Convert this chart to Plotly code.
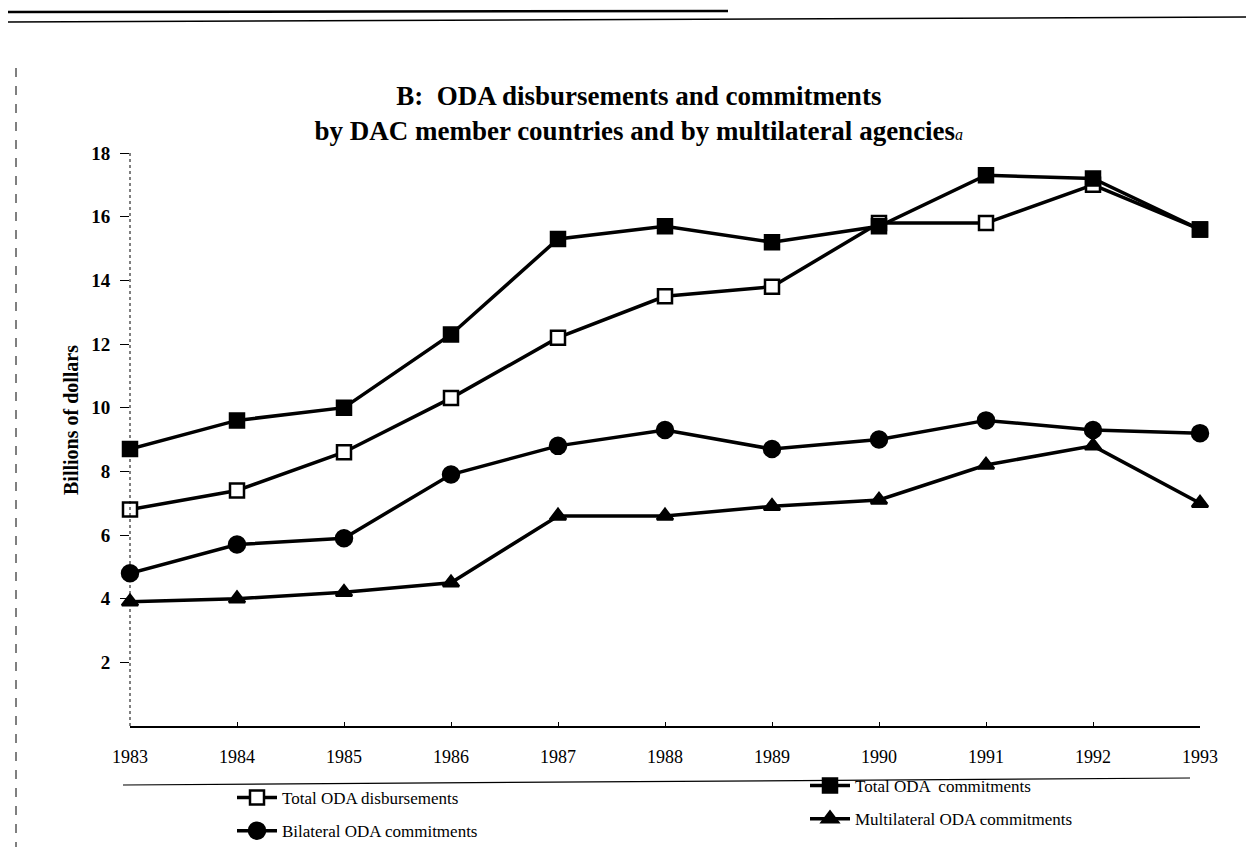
import plotly.graph_objects as go

years = [1983, 1984, 1985, 1986, 1987, 1988, 1989, 1990, 1991, 1992, 1993]
total_disb = [6.8, 7.4, 8.6, 10.3, 12.2, 13.5, 13.8, 15.8, 15.8, 17.0, 15.6]
total_comm = [8.7, 9.6, 10.0, 12.3, 15.3, 15.7, 15.2, 15.7, 17.3, 17.2, 15.6]
bilateral = [4.8, 5.7, 5.9, 7.9, 8.8, 9.3, 8.7, 9.0, 9.6, 9.3, 9.2]
multilateral = [3.9, 4.0, 4.2, 4.5, 6.6, 6.6, 6.9, 7.1, 8.2, 8.8, 7.0]
y_ticks = [2, 4, 6, 8, 10, 12, 14, 16, 18]

W, H = 1254, 847
L, R, T, B = 122, 62, 145, 129
PW, PH = W - L - R, H - T - B

def px(xpix):
    return (xpix - L) / PW

def py(ypix):
    return (H - B - ypix) / PH

SERIF = "Liberation Serif, Times New Roman, serif"

fig = go.Figure()
series = [
    ("Total ODA disbursements", total_disb, "square", "white", "legend"),
    ("Total ODA  commitments", total_comm, "square", "black", "legend2"),
    ("Bilateral ODA commitments", bilateral, "circle", "black", "legend"),
    ("Multilateral ODA commitments", multilateral, "triangle-up", "black", "legend2"),
]
for name, vals, sym, fill, lg in series:
    fig.add_trace(go.Scatter(
        x=years, y=vals, name=name, mode="lines+markers",
        line=dict(color="black", width=3.5),
        marker=dict(symbol=sym, size=14 if sym != "circle" else 16, color=fill,
                    line=dict(color="black", width=2.5)),
        cliponaxis=False, legend=lg, legendgroup=name,
    ))

legend_font = dict(family=SERIF, size=17, color="black")
fig.update_layout(
    width=W, height=H,
    margin=dict(l=L, r=R, t=T, b=B, autoexpand=False),
    paper_bgcolor="white", plot_bgcolor="white",
    title=dict(
        text="<b>B:  ODA disbursements and commitments<br>by DAC member countries and by multilateral agencies</b>"
             "<span style='font-size:16px'><i>a</i></span>",
        x=0.503, xanchor="center", y=1 - 97 / H, yanchor="middle", yref="container",
        font=dict(family=SERIF, size=27, color="black"),
    ),
    font=dict(family=SERIF, color="black"),
    showlegend=True,
    legend=dict(
        orientation="v", x=px(224), xanchor="left", y=py(772), yanchor="top",
        font=legend_font, bgcolor="rgba(0,0,0,0)", itemwidth=40, tracegroupgap=8,
    ),
    legend2=dict(
        orientation="v", x=px(797), xanchor="left", y=py(760), yanchor="top",
        font=legend_font, bgcolor="rgba(0,0,0,0)", itemwidth=40, tracegroupgap=8,
    ),
)

fig.update_xaxes(
    range=[1983, 1993], tickvals=years, ticktext=[str(y) for y in years],
    showgrid=False, zeroline=False, showline=True, linecolor="black", linewidth=1.5,
    ticks="inside", ticklen=4, tickcolor="black",
    tickfont=dict(family=SERIF, size=18, color="black"), ticklabelstandoff=14,
)
fig.update_yaxes(
    range=[0, 18], tickvals=y_ticks, ticktext=["<b>%d</b>" % v for v in y_ticks],
    showgrid=False, zeroline=False, showline=False,
    ticks="outside", ticklen=9, tickcolor="black", tickwidth=1.2,
    tickfont=dict(family=SERIF, size=19, color="black"), ticklabelstandoff=6,
)

# dotted y axis line
fig.add_shape(type="line", xref="paper", yref="paper", x0=0, x1=0, y0=0, y1=1,
              line=dict(color="black", width=1, dash="dot"))

fig.add_annotation(
    text="<b>Billions of dollars</b>", textangle=-90, xref="paper", yref="paper",
    x=px(50), y=py(412), showarrow=False,
    font=dict(family=SERIF, size=20, color="black"),
)

# frame and legend rules (scanned page decoration)
decor = [
    (px(0), py(4), px(720), py(3), 2.5, "solid"),
    (px(0), py(14), px(1254), py(9), 1.5, "solid"),
    (px(8), py(60), px(8), py(847), 1, "dash"),
    (px(1250), py(20), px(1250), py(620), 1, "dash"),
    (px(115), py(777), px(1182), py(770), 1.2, "solid"),
    (px(0), py(844), px(1254), py(842), 1.2, "solid"),
]
for x0, y0, x1, y1, w, d in decor:
    fig.add_shape(type="line", xref="paper", yref="paper", x0=x0, y0=y0, x1=x1, y1=y1,
                  line=dict(color="black", width=w, dash=d))

fig.write_html("out.html")
